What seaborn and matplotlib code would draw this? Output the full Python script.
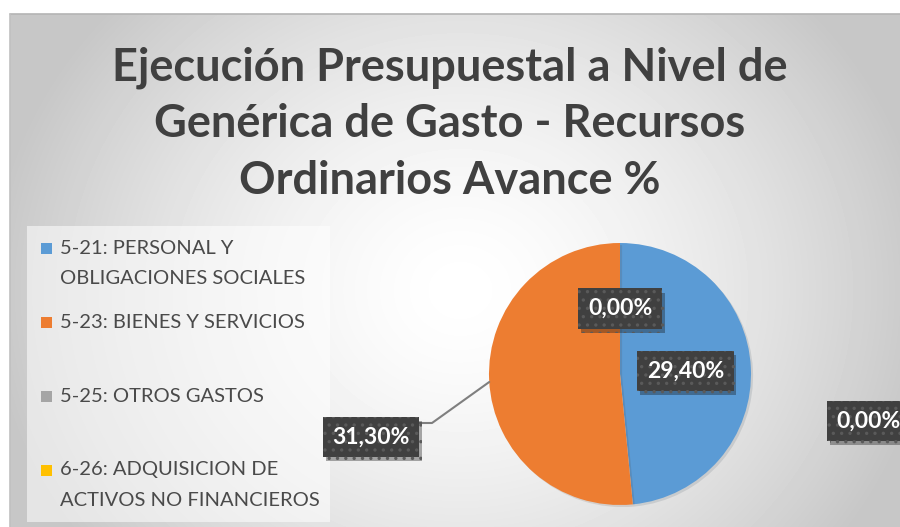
import matplotlib.pyplot as plt
import matplotlib.patheffects as pe
from matplotlib.patches import Rectangle
import numpy as np
import seaborn as sns

# datos del grafico
categorias = ['5-21: PERSONAL Y\nOBLIGACIONES SOCIALES',
              '5-23: BIENES Y SERVICIOS',
              '5-25: OTROS GASTOS',
              '6-26: ADQUISICION DE\nACTIVOS NO FINANCIEROS']
avance = [29.40, 31.30, 0.00, 0.00]
etiquetas = ['29,40%', '31,30%', '0,00%', '0,00%']
titulo = 'Ejecución Presupuestal a Nivel de\nGenérica de Gasto - Recursos\nOrdinarios Avance %'

sns.set_style('white')
plt.rcParams['font.family'] = ['Lato', 'DejaVu Sans']
plt.rcParams['hatch.color'] = '#5a5a5a'
plt.rcParams['hatch.linewidth'] = 1.2
colores = sns.color_palette(['#5B9BD5', '#ED7D31', '#A5A5A5', '#FFC000'])

W, H = 900, 527
fig = plt.figure(figsize=(W / 100, H / 100), dpi=100, facecolor='white')

# fondo con degradado radial
bg = fig.add_axes([0, 0, 1, 1])
bg.set_xlim(0, W)
bg.set_ylim(H, 0)
bg.axis('off')
xx, yy = np.meshgrid(np.arange(10, W), np.arange(14, H))
d = np.sqrt(((xx - 460) / 470) ** 2 + ((yy - 290) / 420) ** 2)
grad = 1 - 0.22 * np.clip(d, 0, 1) ** 1.5
bg.imshow(grad, cmap='gray', vmin=0, vmax=1, extent=(10, W, H, 14),
          origin='upper', aspect='auto', interpolation='bilinear')
bg.plot([10, W], [14, 14], color='#b4b4b4', lw=1.2)
bg.plot([10, 10], [14, H], color='#c0c0c0', lw=1.2)

fig.text(0.5, 1 - 124 / H, titulo, ha='center', va='center', fontsize=32.5,
         fontweight='bold', color='#404040', linespacing=1.42)

# leyenda
bg.add_patch(Rectangle((27, 226), 303, 296, facecolor='white', alpha=0.55,
                       edgecolor='none'))
for i, (cat, col) in enumerate(zip(categorias, colores)):
    y0 = 248 + i * 74
    bg.add_patch(Rectangle((41, y0 - 5.5), 11, 11, facecolor=col, edgecolor='none'))
    for j, linea in enumerate(cat.split('\n')):
        bg.text(60, y0 + j * 30, linea, ha='left', va='center',
                fontsize=14.5, color='#4a4a4a')

# pastel
cx, cy, r = 620, 374, 131
ax = fig.add_axes([0, 0, 1, 1])
ax.patch.set_alpha(0)
wedges, _ = ax.pie(avance, colors=colores, startangle=90, counterclock=False,
                   radius=1, wedgeprops=dict(linewidth=0))
for w in wedges:
    w.set_path_effects([pe.SimplePatchShadow(offset=(1.5, -1.5), alpha=0.12),
                        pe.Normal()])
ax.set_aspect('auto')
ax.set_xlim(-cx / r, (W - cx) / r)
ax.set_ylim(-(H - cy) / r, cy / r)
ax.axis('off')

# posiciones de etiquetas: por defecto a mitad de radio, algunas movidas
pos = []
for w in wedges:
    ang = np.deg2rad((w.theta1 + w.theta2) / 2)
    pos.append([0.5 * np.cos(ang), 0.5 * np.sin(ang)])
pos[1] = [-1.90, -0.48]
pos[3] = [1.90, -0.36]

# linea guia de la etiqueta 31,30%
a = np.deg2rad(183.5)
ax.plot([np.cos(a), -1.435, -1.53], [np.sin(a), -0.374, -0.374],
        color='#7f7f7f', lw=1.5, zorder=3)

for (px, py), txt in zip(pos, etiquetas):
    t = ax.text(px, py, txt, ha='center', va='center', fontsize=16.5,
                fontweight='bold', color='white', zorder=5,
                bbox=dict(boxstyle='square,pad=0.42', facecolor='#404040',
                          edgecolor='#5a5a5a', hatch='..', linewidth=0))
    t.get_bbox_patch().set_path_effects(
        [pe.SimplePatchShadow(offset=(2, -3), alpha=0.35), pe.Normal()])

fig.savefig('out.png', dpi=100)
